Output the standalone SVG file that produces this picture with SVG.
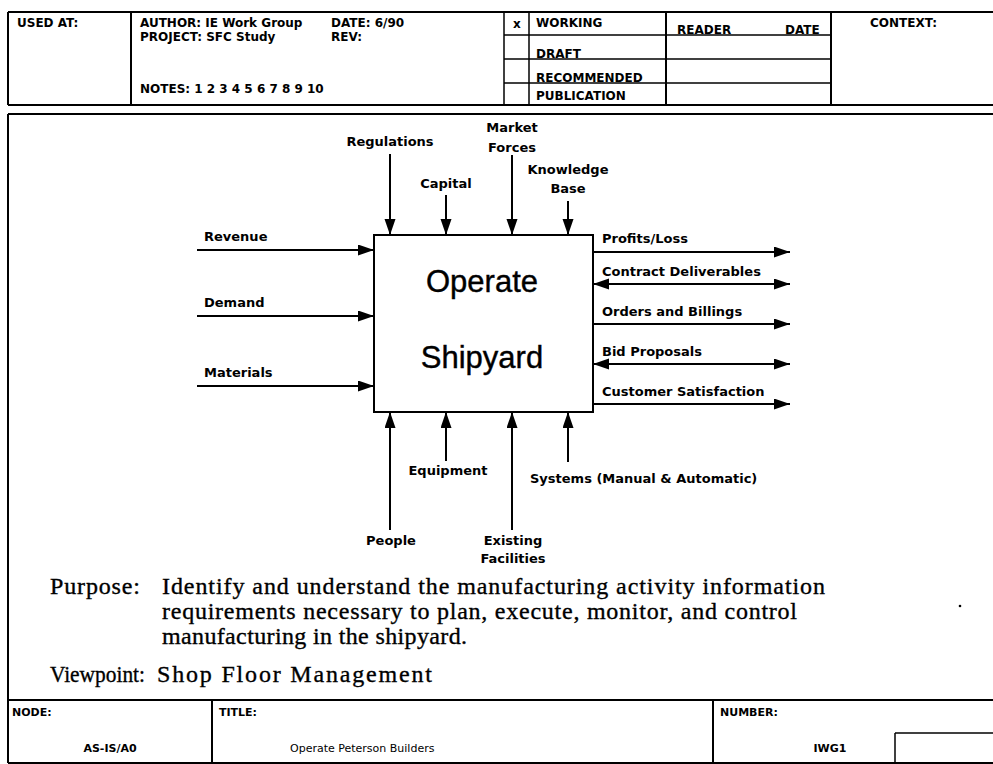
<svg xmlns="http://www.w3.org/2000/svg" width="993" height="764" viewBox="0 0 993 764">
<style>
.ln{stroke:#000;stroke-width:2;fill:none}
.thin{stroke:#000;stroke-width:1.5;fill:none}
.hd{font-family:"DejaVu Sans",sans-serif;font-weight:bold;font-size:12px;fill:#000}
.lb{font-family:"DejaVu Sans",sans-serif;font-weight:bold;font-size:13px;fill:#000}
.ft{font-family:"DejaVu Sans",sans-serif;font-size:11px;fill:#000}
.big{font-family:"Liberation Sans",Arial,sans-serif;font-size:31px;fill:#000;stroke:#000;stroke-width:0.4}
.ser{font-family:"Liberation Serif","Times New Roman",serif;font-size:24px;fill:#000;stroke:#000;stroke-width:0.35}
.ar{stroke:#000;stroke-width:2;fill:none;marker-end:url(#ah)}
.ar2{stroke:#000;stroke-width:2;fill:none;marker-end:url(#ah);marker-start:url(#ahs)}
</style>
<defs>
<marker id="ah" markerUnits="userSpaceOnUse" markerWidth="18" markerHeight="12" refX="16" refY="5.5" orient="auto"><path d="M0,0 L16,5.5 L0,11 z" fill="#000"/></marker>
<marker id="ahs" markerUnits="userSpaceOnUse" markerWidth="18" markerHeight="12" refX="16" refY="5.5" orient="auto-start-reverse"><path d="M0,0 L16,5.5 L0,11 z" fill="#000"/></marker>
</defs>
<rect width="993" height="764" fill="#fff"/>

<g id="header">
<line class="ln" x1="8" y1="12" x2="993" y2="12"/>
<line class="ln" x1="8" y1="105" x2="993" y2="105"/>
<line class="ln" x1="8" y1="12" x2="8" y2="105"/>
<line class="ln" x1="131" y1="12" x2="131" y2="105"/>
<line class="thin" x1="504" y1="12" x2="504" y2="105"/>
<line class="thin" x1="529" y1="12" x2="529" y2="105"/>
<line class="ln" x1="666" y1="12" x2="666" y2="105"/>
<line class="ln" x1="831" y1="12" x2="831" y2="105"/>
<line class="thin" x1="504" y1="35" x2="831" y2="35"/>
<line class="thin" x1="504" y1="59" x2="831" y2="59"/>
<line class="thin" x1="504" y1="83" x2="831" y2="83"/>
<text class="hd" x="17" y="27">USED AT:</text>
<text class="hd" x="140" y="27">AUTHOR: IE Work Group</text>
<text class="hd" x="140" y="41">PROJECT: SFC Study</text>
<text class="hd" x="331" y="27">DATE: 6/90</text>
<text class="hd" x="331" y="41">REV:</text>
<text class="hd" x="140" y="93">NOTES: 1 2 3 4 5 6 7 8 9 10</text>
<text class="hd" x="513" y="28">x</text>
<text class="hd" x="536" y="27">WORKING</text>
<text class="hd" x="536" y="58">DRAFT</text>
<text class="hd" x="536" y="82">RECOMMENDED</text>
<text class="hd" x="536" y="100">PUBLICATION</text>
<text class="hd" x="677" y="34">READER</text>
<text class="hd" x="785" y="34">DATE</text>
<text class="hd" x="870" y="27">CONTEXT:</text>
</g>

<g id="frame">
<line class="ln" x1="8" y1="114" x2="993" y2="114"/>
<line class="ln" x1="8" y1="114" x2="8" y2="763"/>
</g>

<g id="node-A0">
<rect x="374" y="235" width="219" height="177" class="ln"/>
<text class="big" x="482" y="292" text-anchor="middle">Operate</text>
<text class="big" x="482" y="368" text-anchor="middle">Shipyard</text>
</g>

<g id="connectors">
<line class="ar" x1="390" y1="154" x2="390" y2="235"/>
<line class="ar" x1="446" y1="195" x2="446" y2="235"/>
<line class="ar" x1="512" y1="155" x2="512" y2="235"/>
<line class="ar" x1="568" y1="201" x2="568" y2="235"/>
<line class="ar" x1="197" y1="250" x2="374" y2="250"/>
<line class="ar" x1="197" y1="316" x2="374" y2="316"/>
<line class="ar" x1="197" y1="386" x2="374" y2="386"/>
<line class="ar" x1="593" y1="252" x2="790" y2="252"/>
<line class="ar2" x1="593" y1="284" x2="790" y2="284"/>
<line class="ar" x1="593" y1="324" x2="790" y2="324"/>
<line class="ar2" x1="593" y1="364" x2="790" y2="364"/>
<line class="ar" x1="593" y1="404" x2="790" y2="404"/>
<line class="ar" x1="390" y1="530" x2="390" y2="412"/>
<line class="ar" x1="446" y1="461" x2="446" y2="412"/>
<line class="ar" x1="512" y1="530" x2="512" y2="412"/>
<line class="ar" x1="568" y1="462" x2="568" y2="412"/>
</g>

<g id="labels">
<text class="lb" x="390" y="146" text-anchor="middle">Regulations</text>
<text class="lb" x="446" y="188" text-anchor="middle">Capital</text>
<text class="lb" x="512" y="132" text-anchor="middle">Market</text>
<text class="lb" x="512" y="152" text-anchor="middle">Forces</text>
<text class="lb" x="568" y="174" text-anchor="middle">Knowledge</text>
<text class="lb" x="568" y="193" text-anchor="middle">Base</text>
<text class="lb" x="204" y="241">Revenue</text>
<text class="lb" x="204" y="307">Demand</text>
<text class="lb" x="204" y="377">Materials</text>
<text class="lb" x="602" y="243">Profits/Loss</text>
<text class="lb" x="602" y="276">Contract Deliverables</text>
<text class="lb" x="602" y="316">Orders and Billings</text>
<text class="lb" x="602" y="356">Bid Proposals</text>
<text class="lb" x="602" y="396">Customer Satisfaction</text>
<text class="lb" x="448" y="475" text-anchor="middle">Equipment</text>
<text class="lb" x="530" y="483">Systems (Manual &amp; Automatic)</text>
<text class="lb" x="391" y="545" text-anchor="middle">People</text>
<text class="lb" x="513" y="545" text-anchor="middle">Existing</text>
<text class="lb" x="513" y="563" text-anchor="middle">Facilities</text>
</g>

<g id="purpose">
<text class="ser" x="50" y="594" textLength="90" lengthAdjust="spacing">Purpose:</text>
<text class="ser" x="162" y="594" textLength="663" lengthAdjust="spacing">Identify and understand the manufacturing activity information</text>
<text class="ser" x="162" y="619" textLength="635" lengthAdjust="spacing">requirements necessary to plan, execute, monitor, and control</text>
<text class="ser" x="162" y="644" textLength="305" lengthAdjust="spacing">manufacturing in the shipyard.</text>
<text class="ser" x="50" y="682" textLength="95" lengthAdjust="spacingAndGlyphs">Viewpoint:</text>
<text class="ser" x="157" y="682" textLength="275" lengthAdjust="spacing">Shop Floor Management</text>
<circle cx="960" cy="606" r="1.3" fill="#000"/>
</g>

<g id="footer">
<line class="ln" x1="8" y1="700" x2="993" y2="700"/>
<line class="ln" x1="8" y1="763" x2="993" y2="763"/>
<line class="ln" x1="212" y1="700" x2="212" y2="763"/>
<line class="ln" x1="713" y1="700" x2="713" y2="763"/>
<line class="thin" x1="895" y1="733" x2="993" y2="733"/>
<line class="thin" x1="895" y1="733" x2="895" y2="763"/>
<text class="ft" x="12" y="716" font-weight="bold">NODE:</text>
<text class="ft" x="110" y="752" text-anchor="middle" font-weight="bold">AS-IS/A0</text>
<text class="ft" x="219" y="716" font-weight="bold">TITLE:</text>
<text class="ft" x="290" y="752">Operate Peterson Builders</text>
<text class="ft" x="720" y="716" font-weight="bold">NUMBER:</text>
<text class="ft" x="830" y="752" text-anchor="middle" font-weight="bold">IWG1</text>
</g>
</svg>
